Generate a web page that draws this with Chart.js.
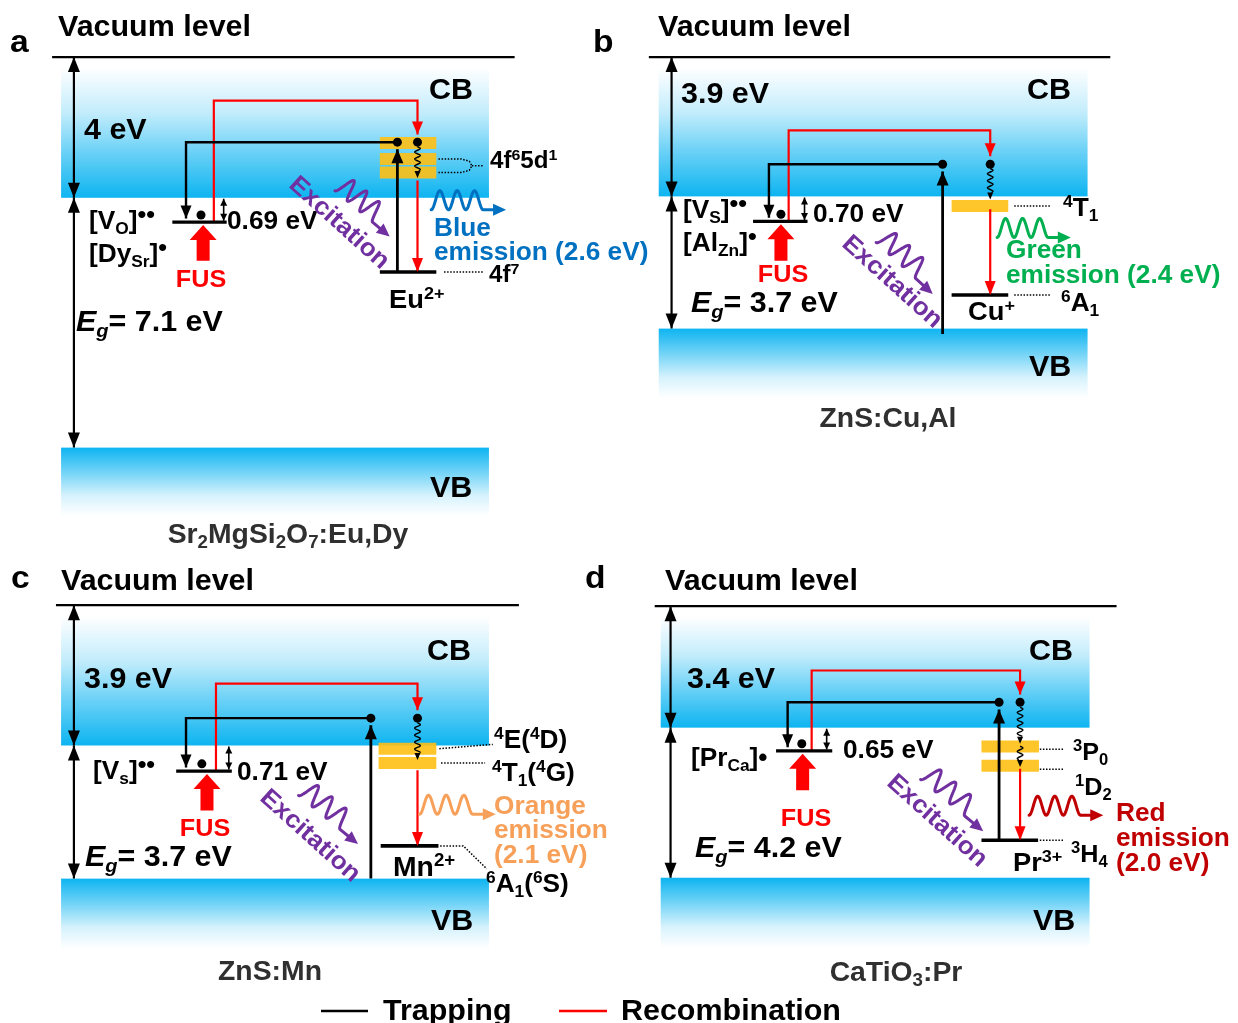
<!DOCTYPE html>
<html>
<head>
<meta charset="utf-8">
<title>Energy-level schemes</title>
<script src="https://cdn.jsdelivr.net/npm/chart.js@4.4.1/dist/chart.umd.min.js"></script>
<style>
  html, body { margin: 0; padding: 0; background: #ffffff; }
  #wrap { position: relative; width: 1238px; height: 1023px; overflow: hidden; background: #ffffff; }
  #wrap canvas { position: absolute; left: 0; top: 0; }
</style>
</head>
<body>
<div id="wrap"></div>
<script>
// ---------------------------------------------------------------
// Energies in eV, measured from the vacuum level (0 eV).
// Panels: a Sr2MgSi2O7:Eu,Dy  b ZnS:Cu,Al  c ZnS:Mn  d CaTiO3:Pr
// ---------------------------------------------------------------
const panelLetters      = ['a', 'b', 'c', 'd'];
const hostNames         = ['Sr_{2}MgSi_{2}O_{7}:Eu,Dy', 'ZnS:Cu,Al', 'ZnS:Mn', 'CaTiO_{3}:Pr'];
const electronAffinity  = [4.0, 3.9, 3.9, 3.4];      // vacuum level -> CB bottom
const bandGap           = [7.1, 3.7, 3.7, 4.2];      // CB bottom -> VB top
const trapDepth         = [0.69, 0.70, 0.71, 0.65];  // trap level below CB
const emissionEnergy    = [2.6, 2.4, 2.1, 2.0];      // radiative transition
const emissionNames     = ['Blue', 'Green', 'Orange', 'Red'];
const activatorIons     = ['Eu^{2+}', 'Cu^{+}', 'Mn^{2+}', 'Pr^{3+}'];
const groundStateDepth  = [2.11, 2.76, 2.79, 3.15];  // activator ground state below CB
const excitedStates     = [[1.56, 1.10, 0.72], [-0.27], [-0.09, -0.49], [-0.525, -1.066]]; // relative to CB
const excitedStateNames = [['4f^{6}5d^{1}'], ['^{4}T_{1}'], ['^{4}E(^{4}D)', '^{4}T_{1}(^{4}G)'], ['^{3}P_{0}', '^{1}D_{2}']];
const groundStateNames  = ['4f^{7}', '^{6}A_{1}', '^{6}A_{1}(^{6}S)', '^{3}H_{4}'];
const hotElectronLevel  = [1.58, 0.90, 0.76, 0.71];  // photo-excited electron above CB
const legendLabels      = ['Trapping', 'Recombination'];

// ---------------------------------------------------------------
// Drawing styles
// ---------------------------------------------------------------
const W = 1238, H = 1023;
const FONT = '"Liberation Sans", Arial, Helvetica, sans-serif';
const SX = 1.05;                     // slight horizontal widening of lettering
const RED = '#FF0000';
const PURPLE = '#7030A0';
const YELLOW = 'rgba(255,192,20,0.9)';
const BAND = '0,176,240';
const emissionColours = ['#0070C0', '#00B050', '#F7A05A', '#C00000'];
const HOST_GREY = '#303030';

// Schematic layout: x in band-box units (0 = left edge, 100 = right edge),
// vertical positions in eV; page frame given in px.
const layout = [
  { boxL: 57, boxR: 488, vacPx: 53, ppe: 35.5,
    vac: [-2.1, 106], ax: 3.0,
    trap: [26.0, 38.7], trapDotX: 32.7, trapArrowX: 29.2, recX: 35.7, depthX: 38.0, fusX: 33.2,
    bar: [74.5, 87.7], act: [74.5, 87.7], excX: 78.6, relaxX: 83.3, recTop: -1.24,
    excFrom: 'ground', relax: [[-2.55, -3.44]],
    photonIn: [[64.0, -3.80], [76.8, -5.10]], photonOut: [[86.5, -4.34], [104.0, -4.34]],
    leaders: lv => {
      const m = (lv.exc[1] + lv.exc[2]) / 2;
      return [
        [[88.2, lv.exc[1]], [93.6, lv.exc[1]], [95.4, lv.exc[1] - 0.06], [96.0, m], [95.4, lv.exc[2] + 0.06], [93.6, lv.exc[2]], [88.2, lv.exc[2]]],
        [[96.0, m], [98.8, m]],
        [[89.5, lv.ground], [98.6, lv.ground]]
      ];
    }
  },
  { boxL: 659, boxR: 1091, vacPx: 53, ppe: 36.05,
    vac: [-2.3, 105.3], ax: 3.0,
    trap: [22.0, 34.7], trapDotX: 28.5, trapArrowX: 25.7, recX: 30.3, depthX: 34.0, fusX: 28.5,
    bar: [68.3, 81.5], act: [68.3, 81.5], excX: 66.2, relaxX: 77.3, recTop: -2.05,
    excFrom: 'VB', relax: [[-3.12, -3.99]],
    photonIn: [[50.7, -5.19], [63.9, -6.63]], photonOut: [[78.9, -5.05], [96.1, -5.05]],
    leaders: lv => [
      [[82.9, lv.exc[0]], [91.2, lv.exc[0]]],
      [[82.9, lv.ground], [91.2, lv.ground]]
    ]
  },
  { boxL: 57, boxR: 488, vacPx: 606, ppe: 36.3,
    vac: [-1.2, 107], ax: 3.0,
    trap: [26.9, 39.9], trapDotX: 32.9, trapArrowX: 29.2, recX: 36.2, depthX: 39.2, fusX: 34.1,
    bar: [74.2, 87.7], act: [74.7, 88.2], excX: 72.4, relaxX: 83.3, recTop: -2.18,
    excFrom: 'VB', relax: [[-3.27, -4.30]],
    photonIn: [[55.5, -5.29], [69.4, -6.64]], photonOut: [[83.8, -5.81], [101.6, -5.81]],
    leaders: lv => [
      [[88.4, lv.exc[0]], [100.9, lv.exc[0] + 0.12]],
      [[88.8, lv.exc[1]], [99.1, lv.exc[1]]],
      [[88.6, lv.ground], [94.0, lv.ground], [99.5, lv.ground - 0.64]]
    ]
  },
  { boxL: 661, boxR: 1093, vacPx: 607, ppe: 36.05,
    vac: [-1.4, 106.3], ax: 2.3,
    trap: [26.9, 40.0], trapDotX: 32.9, trapArrowX: 29.6, recX: 35.2, depthX: 38.7, fusX: 33.1,
    bar: [74.8, 88.2], act: [74.8, 88.0], excX: 78.9, relaxX: 83.8, recTop: -1.80,
    excFrom: 'ground', relax: [[-2.83, -3.85], [-3.92, -4.50]],
    photonIn: [[60.6, -4.85], [75.2, -6.30]], photonOut: [[85.9, -5.85], [103.2, -5.85]],
    leaders: lv => [
      [[88.4, lv.exc[0] - 0.08], [94.0, lv.exc[0] - 0.08]],
      [[88.4, lv.exc[1] - 0.10], [94.0, lv.exc[1] - 0.10]],
      [[88.4, lv.ground], [94.0, lv.ground]]
    ]
  }
];

// Text placement (px, left edge / baseline unless noted)
const em = i => `emission (${emissionEnergy[i].toFixed(1)} eV)`;
const eg = i => `~{E}%{g}= ${bandGap[i].toFixed(1)} eV`;
const ea = i => `${electronAffinity[i]} eV`;
const td = i => `${trapDepth[i].toFixed(2)} eV`;

const panelTexts = [
  [
    { s: panelLetters[0], x: 10, y: 52, f: 32 },
    { s: 'Vacuum level', x: 58, y: 36, f: 29 },
    { s: ea(0), x: 84, y: 139, f: 29 },
    { s: 'CB', x: 429, y: 99, f: 29 },
    { s: '[V_{O}]^{••}', x: 89, y: 229, f: 25 },
    { s: '[Dy_{Sr}]^{•}', x: 89, y: 262, f: 25 },
    { s: td(0), x: 227, y: 229, f: 25 },
    { s: 'FUS', x: 201, y: 287, f: 24, c: RED, a: 'center' },
    { s: 'Excitation', x: 339, y: 223, f: 25, c: PURPLE, a: 'center', rot: 42, mid: true },
    { s: excitedStateNames[0][0], x: 490, y: 168, f: 23 },
    { s: emissionNames[0], x: 434, y: 236, f: 25, c: emissionColours[0] },
    { s: em(0), x: 434, y: 260, f: 25, c: emissionColours[0] },
    { s: groundStateNames[0], x: 489, y: 282, f: 23 },
    { s: activatorIons[0], x: 389, y: 308, f: 26 },
    { s: eg(0), x: 76, y: 331, f: 29 },
    { s: 'VB', x: 430, y: 497, f: 29 },
    { s: hostNames[0], x: 288, y: 543, f: 27, c: HOST_GREY, a: 'center' }
  ],
  [
    { s: panelLetters[1], x: 593, y: 52, f: 32 },
    { s: 'Vacuum level', x: 658, y: 36, f: 29 },
    { s: ea(1), x: 681, y: 103, f: 29 },
    { s: 'CB', x: 1027, y: 99, f: 29 },
    { s: '[V_{S}]^{••}', x: 683, y: 218, f: 25 },
    { s: '[Al_{Zn}]^{•}', x: 683, y: 251, f: 25 },
    { s: td(1), x: 813, y: 222, f: 25 },
    { s: 'FUS', x: 783, y: 282, f: 24, c: RED, a: 'center' },
    { s: 'Excitation', x: 892, y: 282, f: 25, c: PURPLE, a: 'center', rot: 42, mid: true },
    { s: excitedStateNames[1][0], x: 1063, y: 216, f: 25 },
    { s: emissionNames[1], x: 1006, y: 258, f: 25, c: emissionColours[1] },
    { s: em(1), x: 1006, y: 283, f: 25, c: emissionColours[1] },
    { s: activatorIons[1], x: 968, y: 320, f: 26 },
    { s: groundStateNames[1], x: 1061, y: 311, f: 25 },
    { s: eg(1), x: 691, y: 312, f: 29 },
    { s: 'VB', x: 1029, y: 376, f: 29 },
    { s: hostNames[1], x: 888, y: 427, f: 27, c: HOST_GREY, a: 'center' }
  ],
  [
    { s: panelLetters[2], x: 11, y: 588, f: 32 },
    { s: 'Vacuum level', x: 61, y: 590, f: 29 },
    { s: ea(2), x: 84, y: 688, f: 29 },
    { s: 'CB', x: 427, y: 660, f: 29 },
    { s: '[V_{s}]^{••}', x: 93, y: 779, f: 25 },
    { s: td(2), x: 237, y: 780, f: 25 },
    { s: 'FUS', x: 205, y: 836, f: 24, c: RED, a: 'center' },
    { s: 'Excitation', x: 310, y: 836, f: 25, c: PURPLE, a: 'center', rot: 42, mid: true },
    { s: excitedStateNames[2][0], x: 494, y: 748, f: 25 },
    { s: excitedStateNames[2][1], x: 492, y: 781, f: 25 },
    { s: emissionNames[2], x: 494, y: 814, f: 25, c: emissionColours[2] },
    { s: 'emission', x: 494, y: 838, f: 25, c: emissionColours[2] },
    { s: `(${emissionEnergy[2].toFixed(1)} eV)`, x: 494, y: 863, f: 25, c: emissionColours[2] },
    { s: activatorIons[2], x: 393, y: 876, f: 27 },
    { s: groundStateNames[2], x: 486, y: 892, f: 25 },
    { s: eg(2), x: 85, y: 866, f: 29 },
    { s: 'VB', x: 431, y: 930, f: 29 },
    { s: hostNames[2], x: 270, y: 980, f: 27, c: HOST_GREY, a: 'center' }
  ],
  [
    { s: panelLetters[3], x: 585, y: 588, f: 32 },
    { s: 'Vacuum level', x: 665, y: 590, f: 29 },
    { s: ea(3), x: 687, y: 688, f: 29 },
    { s: 'CB', x: 1029, y: 660, f: 29 },
    { s: '[Pr_{Ca}]•', x: 691, y: 766, f: 25 },
    { s: td(3), x: 843, y: 758, f: 25 },
    { s: 'FUS', x: 806, y: 826, f: 24, c: RED, a: 'center' },
    { s: 'Excitation', x: 937, y: 821, f: 25, c: PURPLE, a: 'center', rot: 42, mid: true },
    { s: excitedStateNames[3][0], x: 1073, y: 760, f: 24 },
    { s: excitedStateNames[3][1], x: 1075, y: 795, f: 24 },
    { s: emissionNames[3], x: 1116, y: 821, f: 25, c: emissionColours[3] },
    { s: 'emission', x: 1116, y: 846, f: 25, c: emissionColours[3] },
    { s: `(${emissionEnergy[3].toFixed(1)} eV)`, x: 1116, y: 871, f: 25, c: emissionColours[3] },
    { s: activatorIons[3], x: 1013, y: 871, f: 26 },
    { s: groundStateNames[3], x: 1071, y: 862, f: 24 },
    { s: eg(3), x: 695, y: 857, f: 29 },
    { s: 'VB', x: 1033, y: 930, f: 29 },
    { s: hostNames[3], x: 896, y: 981, f: 27, c: HOST_GREY, a: 'center' }
  ]
];

const legendItems = [
  { label: legendLabels[0], colour: '#000000', line: [321, 368], tx: 383 },
  { label: legendLabels[1], colour: RED, line: [559, 607], tx: 621 }
];
const legendY = 1011;

// ---------------------------------------------------------------
// Rich text: _{sub}  ^{sup}  ~{italic}  %{italic sub}
// ---------------------------------------------------------------
function parseRich(str) {
  const segs = [];
  const re = /([_^%~])\{([^}]*)\}|([^_^%~]+)/g;
  let m;
  while ((m = re.exec(str))) {
    if (m[3]) segs.push({ t: m[3] });
    else segs.push({ t: m[2], sub: m[1] === '_' || m[1] === '%', sup: m[1] === '^', it: m[1] === '~' || m[1] === '%' });
  }
  return segs;
}
function segSize(s, f) {
  if (s.sup && s.t.indexOf('•') >= 0) return f * 0.95;   // charge dots
  return (s.sub || s.sup) ? f * 0.66 : f;
}
function segFont(s, f) {
  return `${s.it ? 'italic ' : ''}bold ${segSize(s, f).toFixed(1)}px ${FONT}`;
}
function drawRich(ctx, item) {
  const segs = parseRich(item.s);
  const f = item.f;
  const widths = segs.map(s => { ctx.font = segFont(s, f); return ctx.measureText(s.t).width; });
  const total = widths.reduce((p, q) => p + q, 0);
  ctx.save();
  ctx.translate(item.x, item.y);
  if (item.rot) ctx.rotate(item.rot * Math.PI / 180);
  ctx.scale(SX, 1);
  ctx.fillStyle = item.c || '#000000';
  ctx.textBaseline = item.mid ? 'middle' : 'alphabetic';
  let x = item.a === 'center' ? -total / 2 : 0;
  segs.forEach((s, k) => {
    ctx.font = segFont(s, f);
    let dy = s.sub ? f * 0.2 : s.sup ? -f * 0.36 : 0;
    if (s.sup && s.t.indexOf('•') >= 0) dy = -f * 0.3;
    ctx.fillText(s.t, x, dy);
    x += widths[k];
  });
  ctx.restore();
}

// ---------------------------------------------------------------
// Geometric helpers (pixel space)
// ---------------------------------------------------------------
function arrowHead(ctx, a, b, len, wid) {
  const dx = b.x - a.x, dy = b.y - a.y, L = Math.hypot(dx, dy);
  const ux = dx / L, uy = dy / L;
  const bx = b.x - ux * len, by = b.y - uy * len;
  ctx.beginPath();
  ctx.moveTo(b.x, b.y);
  ctx.lineTo(bx - uy * wid / 2, by + ux * wid / 2);
  ctx.lineTo(bx + uy * wid / 2, by - ux * wid / 2);
  ctx.closePath();
  ctx.fill();
}
// photon: humped wave ending in an arrowhead
function photon(ctx, p0, p1, colour, humps, height, headL, headW, lw) {
  const dx = p1.x - p0.x, dy = p1.y - p0.y, L = Math.hypot(dx, dy);
  const ux = dx / L, uy = dy / L, nx = uy, ny = -ux;
  const wl = (L - headL) * 0.84;
  ctx.save();
  ctx.strokeStyle = colour; ctx.fillStyle = colour;
  ctx.lineWidth = lw; ctx.lineJoin = 'round'; ctx.lineCap = 'round';
  ctx.beginPath();
  const N = 140;
  for (let k = 0; k <= N; k++) {
    const t = k / N, s = wl * t;
    const o = height * (1 - Math.cos(2 * Math.PI * humps * t)) / 2;
    const x = p0.x + ux * s + nx * o, y = p0.y + uy * s + ny * o;
    if (k) ctx.lineTo(x, y); else ctx.moveTo(x, y);
  }
  ctx.lineTo(p0.x + ux * (L - headL + 1), p0.y + uy * (L - headL + 1));
  ctx.stroke();
  arrowHead(ctx, { x: p0.x + ux * (L - headL), y: p0.y + uy * (L - headL) }, p1, headL, headW);
  ctx.restore();
}
// non-radiative relaxation: small zigzag with arrowhead
function squiggle(ctx, x, y0, y1) {
  const headL = 7, headW = 6, amp = 2.8, wl = 7;
  const L = y1 - y0;
  ctx.save();
  ctx.strokeStyle = '#000'; ctx.fillStyle = '#000'; ctx.lineWidth = 1.4;
  ctx.beginPath();
  const run = L - headL;
  for (let s = 0; s <= run; s += 0.5) {
    const xx = x + amp * Math.sin(2 * Math.PI * s / wl);
    if (s) ctx.lineTo(xx, y0 + s); else ctx.moveTo(xx, y0 + s);
  }
  ctx.stroke();
  arrowHead(ctx, { x: x, y: y1 - headL }, { x: x, y: y1 }, headL, headW);
  ctx.restore();
}
// block arrow for the mechanical (FUS) stimulus
function blockArrow(ctx, x, yTail, yTip, shaftW, headW, headL, colour) {
  ctx.save();
  ctx.fillStyle = colour;
  ctx.beginPath();
  ctx.moveTo(x, yTip);
  ctx.lineTo(x + headW / 2, yTip + headL);
  ctx.lineTo(x + shaftW / 2, yTip + headL);
  ctx.lineTo(x + shaftW / 2, yTail);
  ctx.lineTo(x - shaftW / 2, yTail);
  ctx.lineTo(x - shaftW / 2, yTip + headL);
  ctx.lineTo(x - headW / 2, yTip + headL);
  ctx.closePath();
  ctx.fill();
  ctx.restore();
}

// ---------------------------------------------------------------
// One Chart.js instance per panel, stacked transparent canvases
// ---------------------------------------------------------------
const wrap = document.getElementById('wrap');

function buildPanel(i) {
  const L = layout[i];
  const ppu = (L.boxR - L.boxL) / 100;
  const xMin = -L.boxL / ppu, xMax = (W - L.boxL) / ppu;
  const yMax = L.vacPx / L.ppe, yMin = yMax - H / L.ppe;

  const CB = -electronAffinity[i];
  const VB = CB - bandGap[i];
  const trapE = CB - trapDepth[i];
  const groundE = CB - groundStateDepth[i];
  const hotE = CB + hotElectronLevel[i];
  const excE = excitedStates[i].map(o => CB + o);
  const emTop = groundE + emissionEnergy[i];

  const seg = (pts, extra) => Object.assign({
    data: pts.map(([x, y]) => ({ x, y })),
    showLine: true, pointRadius: 0, pointHoverRadius: 0,
    borderColor: '#000000', borderWidth: 2, fill: false, tension: 0, order: 5
  }, extra || {});

  const ds = [];
  // vacuum level
  ds.push(seg([[L.vac[0], 0], [L.vac[1], 0]], { borderWidth: 2.2 }));
  // electron affinity and band-gap double arrows
  ds.push(seg([[L.ax, 0], [L.ax, CB]], { borderWidth: 2.2, head: { start: true, end: true, len: 15, wid: 12 } }));
  ds.push(seg([[L.ax, CB], [L.ax, VB]], { borderWidth: 2.2, head: { start: true, end: true, len: 15, wid: 12 } }));
  // excited states of the activator
  excE.forEach(e => ds.push(seg([[L.bar[0], e], [L.bar[1], e]], { borderColor: YELLOW, borderWidth: 12, order: 10 })));
  // trap level and activator ground state
  ds.push(seg([[L.trap[0], trapE], [L.trap[1], trapE]], { borderWidth: 3.2 }));
  ds.push(seg([[L.act[0], groundE], [L.act[1], groundE]], { borderWidth: 3.6 }));
  // trap depth
  ds.push(seg([[L.depthX, CB - 0.03], [L.depthX, trapE + 0.04]], { borderWidth: 1.6, head: { start: true, end: true, len: 7, wid: 7 } }));
  // excitation
  const excStart = L.excFrom === 'VB' ? (i === 1 ? VB - 0.15 : VB) : groundE;
  ds.push(seg([[L.excX, excStart], [L.excX, hotE - 0.2]], { borderWidth: 2.8, head: { end: true, len: 14, wid: 12 } }));
  // trapping path
  ds.push(seg([[L.excX, hotE], [L.trapArrowX, hotE], [L.trapArrowX, trapE + 0.1]], { borderWidth: 2.4, head: { end: true, len: 13, wid: 11 } }));
  // recombination path
  ds.push(seg([[L.recX, trapE], [L.recX, L.recTop], [L.relaxX, L.recTop], [L.relaxX, hotE + 0.22]], { borderColor: RED, borderWidth: 2.2, head: { end: true, len: 13, wid: 11 } }));
  // radiative transition
  ds.push(seg([[L.relaxX, emTop], [L.relaxX, groundE]], { borderColor: RED, borderWidth: 2.2, head: { end: true, len: 14, wid: 11 } }));
  // dotted leaders to the term symbols
  L.leaders({ exc: excE, ground: groundE }).forEach(p => ds.push(seg(p, { borderWidth: 1.5, borderDash: [1.5, 1.6] })));
  // electrons
  ds.push({
    data: [{ x: L.trapDotX, y: trapE + 0.2 }, { x: L.excX, y: hotE }, { x: L.relaxX, y: hotE }],
    showLine: false, pointRadius: 4.5, pointHoverRadius: 4.5,
    pointBackgroundColor: '#000000', pointBorderWidth: 0, order: 1
  });

  const canvas = document.createElement('canvas');
  canvas.width = W; canvas.height = H;
  wrap.appendChild(canvas);

  const scheme = {
    id: 'scheme' + i,
    beforeDatasetsDraw(chart) {
      const ctx = chart.ctx, xs = chart.scales.x, ys = chart.scales.y;
      const x0 = xs.getPixelForValue(0), x1 = xs.getPixelForValue(100);
      // conduction band
      const yTop = ys.getPixelForValue(-0.3), yCB = ys.getPixelForValue(CB);
      let g = ctx.createLinearGradient(0, yTop, 0, yCB);
      g.addColorStop(0, `rgba(${BAND},0)`);
      g.addColorStop(0.35, `rgba(${BAND},0.24)`);
      g.addColorStop(0.65, `rgba(${BAND},0.58)`);
      g.addColorStop(1, `rgba(${BAND},0.95)`);
      ctx.fillStyle = g;
      ctx.fillRect(x0, yTop, x1 - x0, yCB - yTop);
      // valence band
      const yVB = ys.getPixelForValue(VB), yEnd = ys.getPixelForValue(VB - 1.95);
      g = ctx.createLinearGradient(0, yVB, 0, yEnd);
      g.addColorStop(0, `rgba(${BAND},0.95)`);
      g.addColorStop(0.35, `rgba(${BAND},0.56)`);
      g.addColorStop(0.7, `rgba(${BAND},0.16)`);
      g.addColorStop(1, `rgba(${BAND},0)`);
      ctx.fillStyle = g;
      ctx.fillRect(x0, yVB, x1 - x0, yEnd - yVB);
    },
    afterDatasetsDraw(chart) {
      const ctx = chart.ctx, xs = chart.scales.x, ys = chart.scales.y;
      const P = ([u, e]) => ({ x: xs.getPixelForValue(u), y: ys.getPixelForValue(e) });
      // arrowheads on line datasets
      chart.data.datasets.forEach((d, k) => {
        if (!d.head) return;
        const pts = chart.getDatasetMeta(k).data;
        ctx.fillStyle = d.borderColor;
        if (d.head.end) arrowHead(ctx, pts[pts.length - 2], pts[pts.length - 1], d.head.len, d.head.wid);
        if (d.head.start) arrowHead(ctx, pts[1], pts[0], d.head.len, d.head.wid);
      });
      // non-radiative relaxation
      L.relax.forEach(([e0, e1]) => squiggle(ctx, xs.getPixelForValue(L.relaxX), ys.getPixelForValue(e0), ys.getPixelForValue(e1)));
      // FUS stimulus
      blockArrow(ctx, xs.getPixelForValue(L.fusX), ys.getPixelForValue(trapE - 1.1), ys.getPixelForValue(trapE - 0.08), 13, 27, 15, RED);
      // photons
      photon(ctx, P(L.photonIn[0]), P(L.photonIn[1]), PURPLE, 3, 20, 13, 12, 3);
      photon(ctx, P(L.photonOut[0]), P(L.photonOut[1]), emissionColours[i], 3, 19, 13, 12, 3);
    },
    afterDraw(chart) {
      const ctx = chart.ctx;
      panelTexts[i].forEach(t => drawRich(ctx, t));
      if (i === 3) {
        legendItems.forEach(it => {
          ctx.save();
          ctx.strokeStyle = it.colour; ctx.lineWidth = 2.6;
          ctx.beginPath(); ctx.moveTo(it.line[0], legendY); ctx.lineTo(it.line[1], legendY); ctx.stroke();
          ctx.restore();
          drawRich(ctx, { s: it.label, x: it.tx, y: legendY + 9, f: 29 });
        });
      }
    }
  };

  return new Chart(canvas, {
    type: 'scatter',
    data: { datasets: ds },
    options: {
      responsive: false,
      animation: false,
      devicePixelRatio: 1,
      events: [],
      layout: { padding: 0 },
      plugins: { legend: { display: false }, tooltip: { enabled: false }, title: { display: false } },
      scales: {
        x: { type: 'linear', min: xMin, max: xMax, bounds: 'data', display: false },
        y: { type: 'linear', min: yMin, max: yMax, bounds: 'data', display: false }
      }
    },
    plugins: [scheme]
  });
}

[0, 1, 2, 3].forEach(buildPanel);
</script>
</body>
</html>
